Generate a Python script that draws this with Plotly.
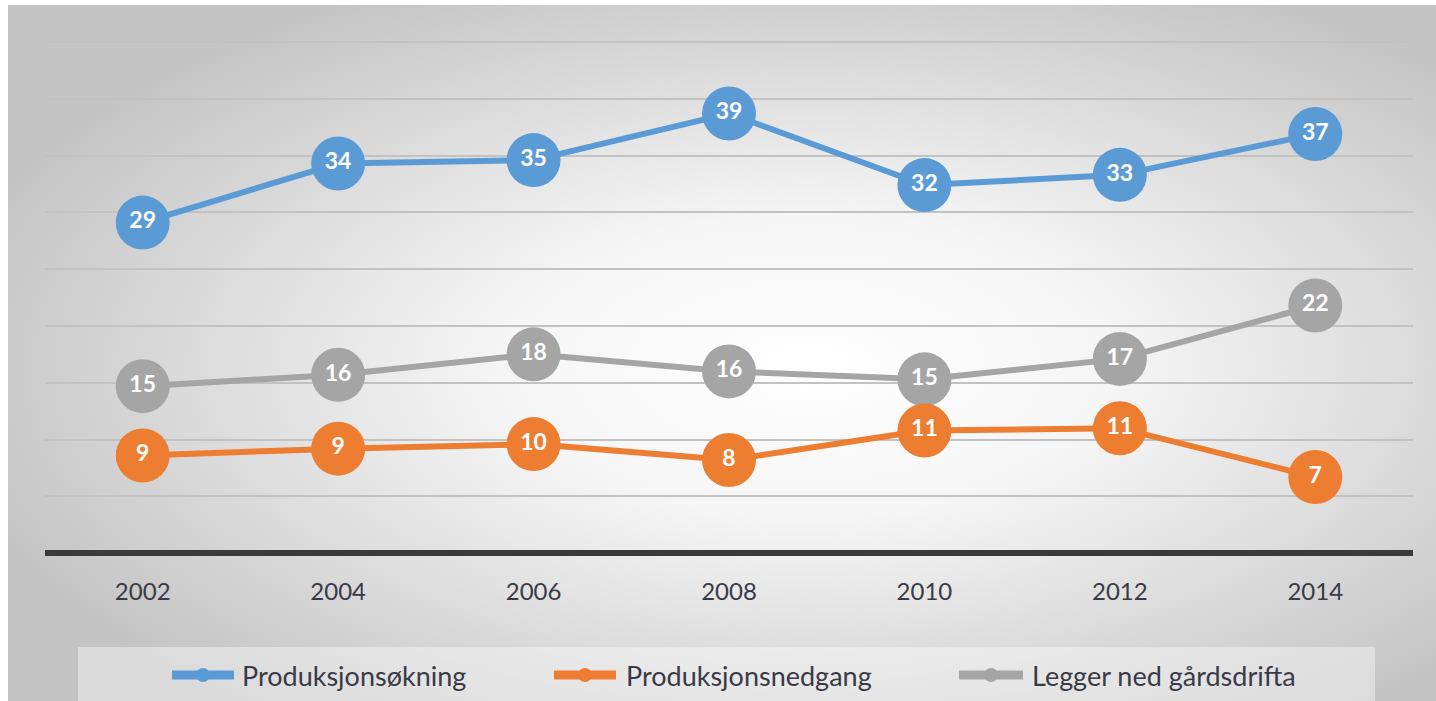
import plotly.graph_objects as go
import urllib.parse

years = ["2002", "2004", "2006", "2008", "2010", "2012", "2014"]
series_names = ["Produksjonsøkning", "Produksjonsnedgang", "Legger ned gårdsdrifta"]
okning = [29.1, 34.3, 34.6, 38.7, 32.4, 33.3, 36.9]
nedgang = [8.6, 9.2, 9.6, 8.2, 10.8, 11.0, 6.7]
legger_ned = [14.7, 15.7, 17.5, 16.0, 15.3, 17.1, 21.8]
colors = ["#5B9BD5", "#ED7D31", "#A5A5A5"]
grid_ticks = [5, 10, 15, 20, 25, 30, 35, 40, 45]

W, H = 1436, 701
ML, MR, MT, MB = 45, 23, 39, 145
PW, PH = W - ML - MR, H - MT - MB
FONT = "Lato, Open Sans, sans-serif"


def px_to_paper_x(px):
    return (px - ML) / PW


def py_to_paper_y(py):
    return (H - MB - py) / PH


fig = go.Figure()
for name, vals, col in [(series_names[2], legger_ned, colors[2]),
                        (series_names[1], nedgang, colors[1]),
                        (series_names[0], okning, colors[0])]:
    fig.add_trace(go.Scatter(
        x=years, y=vals, name=name, mode="lines+markers+text",
        line=dict(color=col, width=6),
        marker=dict(color=col, size=54, line=dict(width=0)),
        text=[f"{round(v + 1e-9):d}" for v in vals],
        textposition="middle center",
        textfont=dict(family=FONT, size=23, color="white", weight="bold"),
        cliponaxis=False, showlegend=False, hoverinfo="x+y+name",
    ))

svg = ("<svg xmlns='http://www.w3.org/2000/svg' width='1428' height='696' preserveAspectRatio='none'>"
       "<defs><radialGradient id='g' cx='0.56' cy='0.52' r='0.62' fx='0.56' fy='0.52'>"
       "<stop offset='0' stop-color='#ffffff'/><stop offset='0.35' stop-color='#f5f5f5'/>"
       "<stop offset='1' stop-color='#c4c4c4'/></radialGradient></defs>"
       "<rect width='1428' height='696' fill='url(#g)'/></svg>")
src = "data:image/svg+xml;charset=utf-8," + urllib.parse.quote(svg)
fig.add_layout_image(dict(
    source=src, xref="paper", yref="paper",
    x=px_to_paper_x(8), y=py_to_paper_y(5),
    sizex=1428 / PW, sizey=696 / PH, sizing="stretch",
    xanchor="left", yanchor="top", layer="below",
))

shapes = [dict(type="rect", xref="paper", yref="paper",
               x0=px_to_paper_x(78), x1=px_to_paper_x(1375),
               y0=py_to_paper_y(701), y1=py_to_paper_y(647),
               fillcolor="rgba(255,255,255,0.4)", line=dict(width=0), layer="below")]
annotations = []
legend_x = [(168, 238, 240), (550, 620, 624), (955, 1027, 1030)]
ly = py_to_paper_y(675)
for name, col, (a, b, t) in zip(series_names, colors, legend_x):
    shapes.append(dict(type="line", xref="paper", yref="paper",
                       x0=px_to_paper_x(a + 4), x1=px_to_paper_x(b - 4), y0=ly, y1=ly,
                       line=dict(color=col, width=9)))
    shapes.append(dict(type="circle", xref="paper", yref="paper",
                       xsizemode="pixel", ysizemode="pixel",
                       xanchor=px_to_paper_x((a + b) / 2), yanchor=ly,
                       x0=-7, x1=7, y0=-7, y1=7,
                       fillcolor=col, line=dict(width=0)))
    annotations.append(dict(xref="paper", yref="paper", x=px_to_paper_x(t), y=ly,
                            xanchor="left", yanchor="middle", showarrow=False,
                            text=name, font=dict(family=FONT, size=27, color="#3a3a46")))

fig.update_layout(
    width=W, height=H,
    margin=dict(l=ML, r=MR, t=MT, b=MB, pad=0),
    paper_bgcolor="white", plot_bgcolor="rgba(0,0,0,0)",
    shapes=shapes, annotations=annotations, showlegend=False,
    xaxis=dict(type="category", range=[-0.5, 6.5], showgrid=False, zeroline=False,
               showline=False, ticks="", ticklabelstandoff=19,
               tickfont=dict(family=FONT, size=24, color="#3a3a46")),
    yaxis=dict(range=[-0.25, 45.26], tickvals=grid_ticks, showticklabels=False,
               showgrid=True, gridcolor="#c2c2c2", gridwidth=2,
               zeroline=True, zerolinecolor="#3a3a3a", zerolinewidth=6, showline=False),
)

fig.write_html("out.html")
